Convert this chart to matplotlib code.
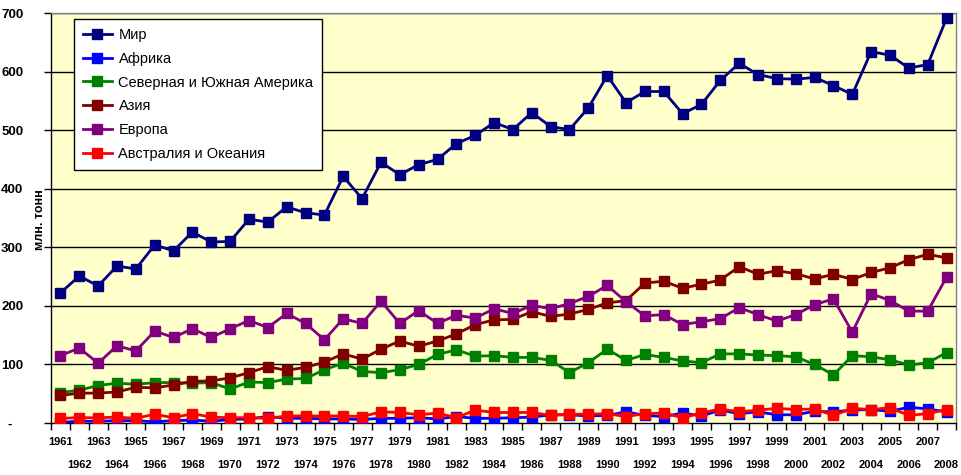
import matplotlib
matplotlib.use("Agg")
import matplotlib.pyplot as plt
from matplotlib.ticker import FixedLocator, FixedFormatter

plt.rcParams['font.family'] = ['Liberation Sans', 'DejaVu Sans']

years = list(range(1961, 2009))

world = [222, 251, 234, 268, 263, 304, 294, 326, 309, 310, 348, 343, 369, 359, 355, 421,
         383, 445, 424, 441, 450, 477, 491, 513, 501, 530, 506, 501, 538, 593, 547, 566,
         566, 528, 544, 585, 614, 595, 588, 587, 590, 576, 561, 634, 628, 606, 612, 691]
africa = [1, 3, 3, 4, 4, 2, 4, 5, 3, 6, 7, 11, 8, 8, 7, 7,
          6, 8, 8, 9, 7, 11, 8, 8, 9, 10, 14, 14, 12, 13, 19, 13,
          11, 17, 12, 22, 16, 19, 14, 14, 20, 19, 22, 23, 20, 27, 24, 19]
americas = [52, 56, 64, 68, 66, 69, 69, 68, 69, 58, 70, 69, 75, 76, 91, 102,
            88, 86, 91, 100, 117, 125, 114, 115, 112, 112, 107, 86, 103, 126, 107, 117,
            112, 106, 103, 118, 118, 116, 115, 113, 100, 82, 115, 113, 108, 99, 103, 120]
asia = [47, 51, 51, 53, 61, 60, 65, 71, 72, 77, 86, 96, 90, 95, 104, 118,
        109, 126, 140, 131, 140, 152, 168, 176, 177, 190, 182, 186, 194, 205, 209, 239,
        242, 230, 237, 244, 267, 254, 260, 255, 246, 254, 245, 257, 265, 279, 288, 282]
europe = [115, 128, 102, 132, 123, 157, 146, 161, 146, 161, 175, 163, 187, 170, 142, 178,
          170, 208, 170, 192, 170, 184, 179, 195, 187, 201, 195, 204, 216, 235, 207, 183,
          185, 168, 173, 178, 197, 185, 174, 185, 202, 212, 155, 221, 209, 191, 191, 249]
oceania = [8, 9, 9, 10, 8, 15, 9, 16, 10, 9, 9, 8, 12, 12, 12, 12,
           11, 19, 18, 14, 17, 9, 22, 18, 18, 18, 13, 15, 15, 16, 11, 16,
           17, 9, 17, 24, 19, 22, 25, 23, 24, 13, 25, 23, 26, 13, 16, 23]

series_names = ["Мир", "Африка", "Северная и Южная Америка", "Азия", "Европа",
                "Австралия и Океания"]
series_values = [world, africa, americas, asia, europe, oceania]
colors = ["#000080", "#0000FF", "#008000", "#800000", "#800080", "#FF0000"]

y_ticks = [0, 100, 200, 300, 400, 500, 600, 700]
y_tick_labels = ["-   ", "100", "200", "300", "400", "500", "600", "700"]

fig = plt.figure(figsize=(9.62, 4.75), dpi=100)
ax = fig.add_axes([51/962, 1 - 423/475, 905/962, 410/475])
ax.set_facecolor("#FFFFCC")

x = list(range(len(years)))
for name, vals, c in zip(series_names, series_values, colors):
    ax.plot(x, vals, color=c, lw=2, marker='s', markersize=7.2,
            markerfacecolor=c, markeredgecolor=c, label=name, zorder=3)

ax.set_xlim(-0.5, len(years) - 0.5)
ax.set_ylim(0, 700)

# y axis
ax.set_yticks(y_ticks)
ax.set_yticklabels(y_tick_labels, fontsize=9.5, fontweight='bold')
ax.tick_params(axis='y', direction='out', length=5, width=1, color='black', pad=15)
for yv in y_ticks[1:]:
    ax.axhline(yv, color='black', lw=1, zorder=1)

# x axis: odd-position years on first row, even-position years on second row
even_idx = [i for i in x if i % 2 == 0]
odd_idx = [i for i in x if i % 2 == 1]
ax.xaxis.set_major_locator(FixedLocator(even_idx))
ax.xaxis.set_major_formatter(FixedFormatter([str(years[i]) for i in even_idx]))
ax.xaxis.set_minor_locator(FixedLocator([i - 0.5 for i in range(len(years) + 1)]))
ax.tick_params(axis='x', which='major', length=0, pad=10, labelsize=8)
ax.tick_params(axis='x', which='minor', direction='out', length=5, width=1, color='black')
for lab in ax.get_xticklabels():
    lab.set_fontweight('bold')

sec = ax.secondary_xaxis('bottom')
sec.xaxis.set_major_locator(FixedLocator(odd_idx))
sec.xaxis.set_major_formatter(FixedFormatter([str(years[i]) for i in odd_idx]))
sec.tick_params(axis='x', which='major', length=0, pad=27, labelsize=8)
sec.tick_params(axis='x', which='minor', length=0)
sec.spines['bottom'].set_visible(False)
for lab in sec.get_xticklabels():
    lab.set_fontweight('bold')

for s in ['left', 'bottom']:
    ax.spines[s].set_color('black')
    ax.spines[s].set_linewidth(1)
for s in ['top', 'right']:
    ax.spines[s].set_color('#808080')
    ax.spines[s].set_linewidth(1)

ax.set_ylabel("млн. тонн", fontsize=9, fontweight='bold')
ax.yaxis.set_label_coords(-0.006, 0.495)

leg = ax.legend(loc='upper left', bbox_to_anchor=((74-51)/905, (423-19)/410),
                borderaxespad=0, fontsize=10.5, frameon=True, fancybox=False,
                edgecolor='black', framealpha=1, handlelength=2.0,
                handletextpad=0.45, labelspacing=0.68, borderpad=0.6)
leg.get_frame().set_linewidth(1)
leg.set_zorder(5)

fig.savefig("out.png", dpi=100)
